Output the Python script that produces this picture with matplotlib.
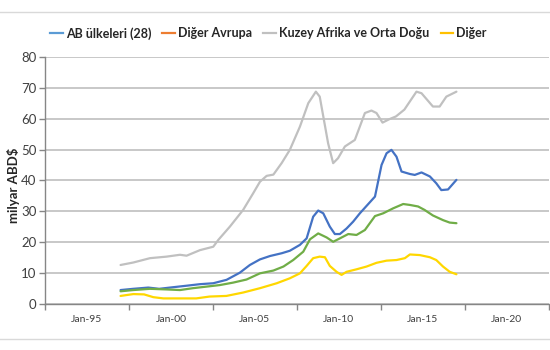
import matplotlib
matplotlib.use("Agg")
import matplotlib.pyplot as plt
from matplotlib.lines import Line2D

# ---- data (decimal years, milyar ABD$) ----
series_names = ["AB ülkeleri (28)", "Diğer Avrupa", "Kuzey Afrika ve Orta Doğu", "Diğer"]

ab_x = [1997.0, 1997.76, 1998.65, 1999.3, 2000.1, 2000.93, 2001.73, 2002.52, 2003.31, 2004.1,
        2004.7, 2005.3, 2005.9, 2006.6, 2007.08, 2007.68, 2008.08, 2008.47, 2008.77, 2009.07,
        2009.46, 2009.76, 2010.06, 2010.46, 2010.85, 2011.25, 2011.65, 2012.15, 2012.54, 2012.84,
        2013.13, 2013.43, 2013.73, 2014.23, 2014.52, 2014.92, 2015.42, 2015.8, 2016.1, 2016.5, 2017.0]
ab_y = [4.6, 5.0, 5.4, 5.0, 5.5, 6.0, 6.5, 6.8, 7.9, 10.2,
        12.7, 14.5, 15.6, 16.5, 17.3, 19.2, 21.3, 28.3, 30.3, 29.4,
        25.1, 22.7, 22.7, 24.5, 26.7, 29.4, 31.8, 34.8, 45.0, 48.8,
        49.9, 47.7, 42.9, 42.1, 41.8, 42.6, 41.3, 39.1, 36.9, 37.1, 40.2]

eu_x = [1997.0, 1997.76, 1998.75, 1999.74, 2000.54, 2001.3, 2002.1, 2002.9, 2003.7, 2004.5,
        2005.3, 2006.1, 2006.7, 2007.28, 2007.88, 2008.28, 2008.77, 2009.27, 2009.66, 2010.06,
        2010.56, 2011.05, 2011.55, 2012.15, 2012.64, 2013.23, 2013.83, 2014.23, 2014.72, 2015.1,
        2015.6, 2016.2, 2016.6, 2017.0]
eu_y = [4.2, 4.6, 5.0, 4.8, 4.6, 5.2, 5.7, 6.2, 7.0, 8.0,
        10.0, 10.9, 12.2, 14.3, 17.0, 21.0, 22.9, 21.6, 20.2, 21.3,
        22.7, 22.4, 24.0, 28.5, 29.4, 31.0, 32.4, 32.1, 31.6, 30.5,
        28.7, 27.2, 26.4, 26.2]

mena_x = [1997.0, 1997.76, 1998.75, 1999.74, 2000.54, 2000.93, 2001.73, 2002.52, 2002.82, 2003.51,
          2004.3, 2004.9, 2005.3, 2005.7, 2006.1, 2006.59, 2007.08, 2007.68, 2008.18, 2008.63,
          2008.86, 2009.36, 2009.66, 2009.95, 2010.36, 2010.95, 2011.55, 2011.94, 2012.24, 2012.6,
          2013.0, 2013.4, 2013.9, 2014.62, 2014.92, 2015.6, 2016.0, 2016.4, 2017.0]
mena_y = [12.7, 13.5, 14.9, 15.4, 16.0, 15.7, 17.5, 18.6, 20.8, 25.1,
          30.5, 35.9, 39.6, 41.5, 41.9, 45.6, 49.9, 57.4, 65.0, 68.7,
          67.1, 52.0, 45.6, 47.2, 51.0, 53.1, 61.8, 62.6, 61.8, 58.7,
          59.8, 60.7, 62.9, 68.7, 68.2, 63.9, 63.9, 67.1, 68.7]

other_x = [1997.0, 1997.76, 1998.4, 1998.95, 1999.55, 2000.54, 2001.5, 2002.3, 2003.3, 2004.3,
           2005.3, 2006.3, 2007.08, 2007.68, 2008.08, 2008.47, 2008.86, 2009.17, 2009.46, 2009.86,
           2010.16, 2010.46, 2011.05, 2011.65, 2012.24, 2012.84, 2013.43, 2013.93, 2014.23, 2014.82,
           2015.42, 2015.8, 2016.2, 2016.6, 2017.0]
other_y = [2.7, 3.3, 3.2, 2.3, 1.9, 1.9, 1.9, 2.5, 2.7, 3.8,
           5.2, 6.8, 8.4, 10.0, 12.4, 14.9, 15.4, 15.2, 12.4, 10.5,
           9.5, 10.5, 11.3, 12.2, 13.4, 14.1, 14.3, 14.9, 16.1, 15.9,
           15.2, 14.3, 12.2, 10.5, 9.7]

x_tick_labels = ["Jan-95", "Jan-00", "Jan-05", "Jan-10", "Jan-15", "Jan-20"]
x_label_pos = [1995, 2000, 2005, 2010, 2015, 2020]
y_ticks = [0, 10, 20, 30, 40, 50, 60, 70, 80]

# ---- style ----
plt.rcParams['font.family'] = ['Lato', 'DejaVu Sans']
line_colors = ["#4472C4", "#70AD47", "#C0C0C0", "#FFD700"]
legend_colors = ["#5B9BD5", "#ED7D31", "#C0C0C0", "#FFC000"]
text_col = "#404040"
grid_col = "#BFBFBF"

fig = plt.figure(figsize=(5.5, 3.5), dpi=100)
ax = fig.add_axes([0.0818, 0.1306, 0.916, 0.7074])

for xs, ys, c in zip([ab_x, eu_x, mena_x, other_x], [ab_y, eu_y, mena_y, other_y], line_colors):
    ax.plot(xs, ys, color=c, lw=1.6, solid_capstyle='round', zorder=3)

ax.set_xlim(1992.5, 2022.5)
ax.set_ylim(0, 80)
ax.set_yticks(y_ticks)
ax.set_yticklabels([str(v) for v in y_ticks], fontsize=9.5, color=text_col)
ax.yaxis.grid(True, color=grid_col, lw=1.2)
ax.set_axisbelow(True)

ax.set_xticks([1992.5 + 5 * i for i in range(7)])
ax.set_xticklabels([""] * 7)
ax.set_xticks(x_label_pos, minor=True)
ax.set_xticklabels(x_tick_labels, minor=True, fontsize=7.5, color=text_col)
ax.tick_params(axis='x', which='major', length=4, color="#868686", width=1)
ax.tick_params(axis='x', which='minor', length=0, pad=8)
ax.tick_params(axis='y', length=4, color="#868686", width=1, pad=2)

for s in ["top", "right"]:
    ax.spines[s].set_visible(False)
for s in ["left", "bottom"]:
    ax.spines[s].set_color("#868686")
    ax.spines[s].set_linewidth(1)

fig.text(0.024, 0.47, "milyar ABD$", rotation=90, fontsize=9.5, fontweight='bold',
         color="#262626", ha='center', va='center')

handles = [Line2D([0], [0], color=c, lw=1.6) for c in legend_colors]
fig.legend(handles, series_names, loc='center', bbox_to_anchor=(0.488, 0.905), ncol=4,
           frameon=False, handlelength=1.0, handletextpad=0.25, columnspacing=0.9,
           prop={'size': 9, 'weight': 'bold'}, labelcolor="#262626")

# frame lines
fig.add_artist(Line2D([0, 1], [1 - 12 / 350, 1 - 12 / 350], color="#D9D9D9", lw=1))
fig.add_artist(Line2D([0, 1], [1 - 339 / 350, 1 - 339 / 350], color="#D9D9D9", lw=1))

fig.savefig("out.png", dpi=100)
